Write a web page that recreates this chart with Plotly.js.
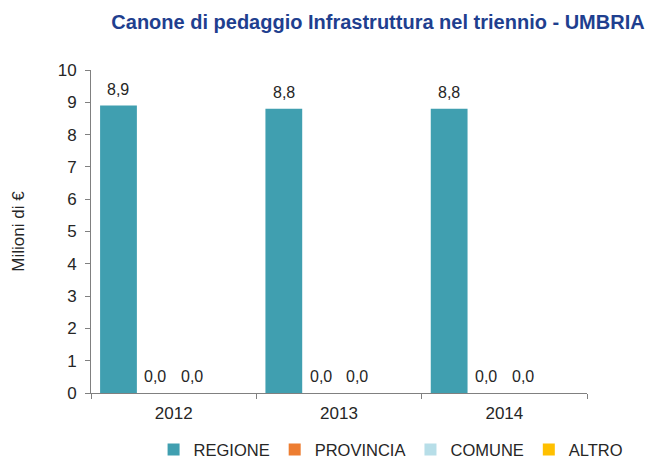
<!DOCTYPE html>
<html>
<head>
<meta charset="utf-8">
<script src="https://cdn.plot.ly/plotly-3.0.1.min.js"></script>
<style>
  body { margin: 0; background: #fff; }
  #chart { width: 654px; height: 459px; }
</style>
</head>
<body>
<div id="chart"></div>
<script>
// years and the four series (milioni di euro)
const years = ['2012', '2013', '2014']
const regione = [8.9, 8.8, 8.8]
const provincia = [0, 0, 0]
const comune = [0, 0, 0]
const altro = [0, 0, 0]

const seriesNames = ['REGIONE', 'PROVINCIA', 'COMUNE', 'ALTRO']
const seriesColors = ['#409FB0', '#ED7D31', '#B7DEE8', '#FFC000']
const seriesValues = [regione, provincia, comune, altro]
const showLabels = [true, true, true, false]

const W = 654, H = 459
const M = { l: 91, r: 67, t: 70, b: 66 }
const bargap = 0.11
const FONT = 'Liberation Sans, Arial, sans-serif'

const traces = seriesValues.map((vals, i) => ({
    type: 'bar',
    name: seriesNames[i],
    x: years,
    y: vals,
    marker: { color: seriesColors[i], line: { width: 0 } },
    hoverinfo: 'skip'
}))

// value labels sit a little above each bar, like the original
// (x given as category index, a year string would be read as a number)
const plotW = W - M.l - M.r
const barW = plotW / years.length * (1 - bargap) / seriesValues.length
const annotations = []
seriesValues.forEach((vals, i) => {
    if (!showLabels[i]) return
    vals.forEach((v, j) => {
        annotations.push({
            x: j, y: v, xref: 'x', yref: 'y',
            text: v.toFixed(1).replace('.', ','),
            showarrow: false,
            xanchor: 'center', yanchor: 'bottom',
            xshift: (i - (seriesValues.length - 1) / 2) * barW,
            yshift: 6,
            font: { family: FONT, size: 16, color: '#262626' }
        })
    })
})

Plotly.newPlot('chart', traces, {
    width: W,
    height: H,
    margin: M,
    paper_bgcolor: '#fff',
    plot_bgcolor: '#fff',
    font: { family: FONT, size: 17, color: '#262626' },
    barmode: 'group',
    bargap: bargap,
    bargroupgap: 0,
    title: {
        text: '<b>Canone di pedaggio Infrastruttura nel triennio - UMBRIA</b>',
        font: { family: FONT, size: 20, color: '#1F3F8F' },
        x: 0.578, xanchor: 'center',
        y: 0.953, yanchor: 'middle'
    },
    xaxis: {
        type: 'category',
        range: [-0.5, years.length - 0.5],
        showline: true, linecolor: '#808080', linewidth: 1,
        ticks: 'outside', tickson: 'boundaries', ticklen: 5, tickcolor: '#808080',
        ticklabelstandoff: 5,
        showgrid: false, zeroline: false,
        tickfont: { size: 17 }
    },
    yaxis: {
        range: [0, 10],
        dtick: 1,
        showline: true, linecolor: '#808080', linewidth: 1,
        ticks: 'outside', ticklen: 5, tickcolor: '#808080',
        ticklabelstandoff: 5,
        showgrid: false, zeroline: false,
        tickfont: { size: 17 },
        title: { text: 'Milioni di €', font: { size: 17 }, standoff: 28 }
    },
    annotations: annotations,
    legend: {
        orientation: 'h',
        x: 0.605, xanchor: 'center',
        yref: 'container',
        y: 0.02, yanchor: 'middle',
        font: { size: 16.5 },
        itemwidth: 30
    },
    showlegend: true
}, { displayModeBar: false, staticPlot: true })
</script>
</body>
</html>
